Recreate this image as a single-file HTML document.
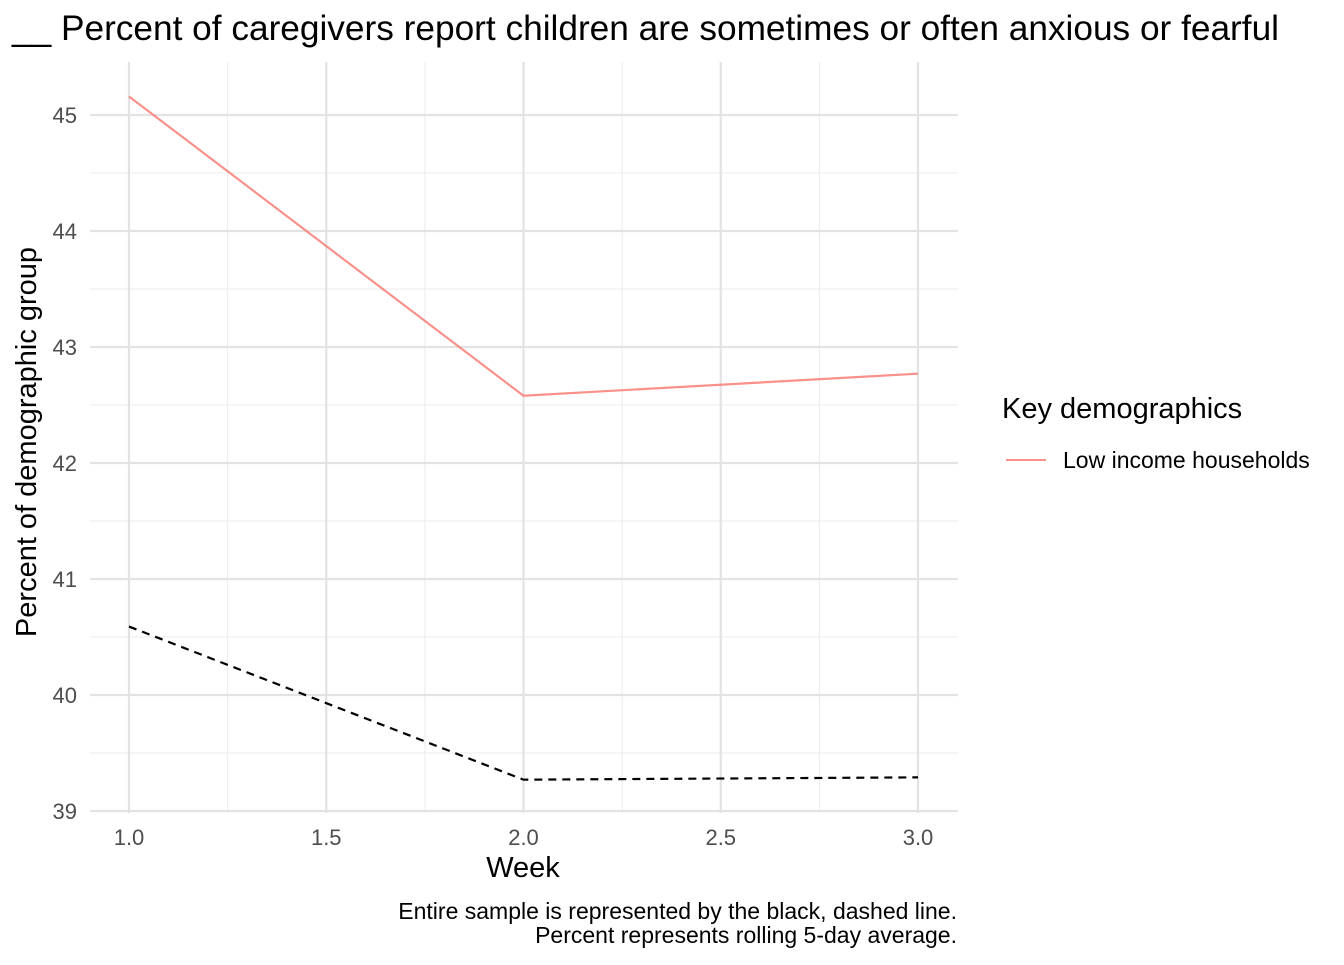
<!DOCTYPE html>
<html><head><meta charset="utf-8"><style>
body{margin:0;background:#fff;}
svg text{font-family:"Liberation Sans",Arial,sans-serif;}
</style></head><body>
<svg id="chart" width="1344" height="960" xmlns="http://www.w3.org/2000/svg">
<text x="12" y="40" font-size="35" textLength="1267" lengthAdjust="spacingAndGlyphs" fill="#000">__ Percent of caregivers report children are sometimes or often anxious or fearful</text>
<g id="grid"></g>
<g id="marks"></g>
<g id="ticks"></g>
<text x="523" y="877" font-size="29" text-anchor="middle">Week</text>
<text transform="translate(36,442) rotate(-90)" font-size="29" text-anchor="middle">Percent of demographic group</text>
<text x="957" y="919" font-size="23" text-anchor="end">Entire sample is represented by the black, dashed line.</text>
<text x="957" y="943" font-size="23" text-anchor="end">Percent represents rolling 5-day average.</text>
<text x="1002" y="418" font-size="29">Key demographics</text>
<line x1="1006" y1="460" x2="1046" y2="460" stroke="#F8766D" stroke-opacity="0.8" stroke-width="2"/>
<text x="1063" y="468" font-size="23">Low income households</text>
</svg>
<script>
const weeks=[1,2,3];
const lowIncome=[45.16,42.58,42.77];
const entireSample=[40.59,39.27,39.29];
const xTicks=[1.0,1.5,2.0,2.5,3.0];
const xTickLabels=["1.0","1.5","2.0","2.5","3.0"];
const yTicks=[39,40,41,42,43,44,45];
const NS="http://www.w3.org/2000/svg";
const X=v=>129+(v-1)*394.5;
const Y=v=>811-(v-39)*116;
const L=90,R=958,T=62,B=813;
const grid=document.getElementById('grid'),marks=document.getElementById('marks'),ticks=document.getElementById('ticks');
function mk(tag,at,p){const e=document.createElementNS(NS,tag);for(const k in at)e.setAttribute(k,at[k]);p.appendChild(e);return e;}
for(let i=0;i<xTicks.length-1;i++){const m=(xTicks[i]+xTicks[i+1])/2;
 const e=mk('line',{x1:X(m),x2:X(m),y1:T,y2:B,stroke:'#ebebeb','stroke-width':1},grid);
 
 }
for(let i=0;i<yTicks.length;i++){const m=yTicks[i]+0.5;if(Y(m)<T)continue;
 const e=mk('line',{x1:L,x2:R,y1:Y(m),y2:Y(m),stroke:'#ebebeb','stroke-width':1},grid);
 
 }
xTicks.forEach((t,i)=>{
 const e=mk('line',{x1:X(t),x2:X(t),y1:T,y2:B,stroke:'#e3e3e3','stroke-width':2.2},grid);
 
 
 const tx=mk('text',{x:X(t),y:845,'font-size':22,fill:'#4d4d4d','text-anchor':'middle'},ticks);tx.textContent=xTickLabels[i];
 
 });
yTicks.forEach(t=>{
 const e=mk('line',{x1:L,x2:R,y1:Y(t),y2:Y(t),stroke:'#e3e3e3','stroke-width':2.2},grid);
 
 
 const tx=mk('text',{x:77,y:Y(t)+8,'font-size':22,fill:'#4d4d4d','text-anchor':'end'},ticks);tx.textContent=t;
 
 });
const p1=mk('polyline',{points:weeks.map((w,i)=>X(w)+','+Y(lowIncome[i])).join(' '),fill:'none',stroke:'#F8766D','stroke-opacity':0.8,'stroke-width':2.2},marks);


const p2=mk('polyline',{points:weeks.map((w,i)=>X(w)+','+Y(entireSample[i])).join(' '),fill:'none',stroke:'#000','stroke-width':2.2,'stroke-dasharray':'8,6'},marks);


</script>
</body></html>
